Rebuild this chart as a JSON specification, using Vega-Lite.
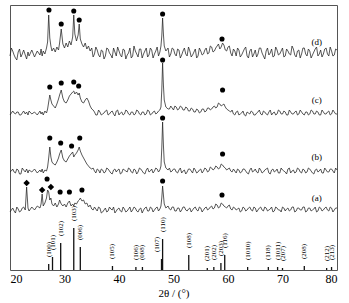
{
"$schema": "https://vega.github.io/schema/vega-lite/v6.json",
"width": 327, "height": 265,
"autosize": {"type": "none"},
"padding": {"left": 10, "top": 5, "right": 12, "bottom": 33},
"config": {"view": {"stroke": "#555", "strokeWidth": 1}, "font": "Liberation Serif"},
"datasets": {
"xrd": [
{"t":20,"a":58,"b":98,"c":155,"d":214},
{"t":20.5,"a":62,"b":101,"c":159,"d":219},
{"t":21,"a":57,"b":97,"c":156,"d":212},
{"t":21.5,"a":61,"b":100,"c":158,"d":218},
{"t":22,"a":59,"b":96,"c":155,"d":213},
{"t":22.5,"a":63,"b":100,"c":159,"d":220},
{"t":22.8,"a":60,"b":98,"c":156,"d":215},
{"t":23.05,"a":83,"b":101,"c":158,"d":211},
{"t":23.3,"a":62,"b":97,"c":155,"d":218},
{"t":23.5,"a":59,"b":100,"c":159,"d":214},
{"t":24,"a":63,"b":98,"c":156,"d":220},
{"t":24.5,"a":60,"b":101,"c":158,"d":213},
{"t":25,"a":64,"b":97,"c":155,"d":219},
{"t":25.5,"a":62,"b":100,"c":159,"d":215},
{"t":25.7,"a":66,"b":98,"c":156,"d":221},
{"t":25.9,"a":76,"b":101,"c":158,"d":214},
{"t":26.1,"a":64,"b":97,"c":155,"d":219},
{"t":26.4,"a":67,"b":100,"c":159,"d":216},
{"t":26.7,"a":72,"b":99,"c":157,"d":222},
{"t":26.9,"a":80,"b":103,"c":161,"d":228},
{"t":27.1,"a":78,"b":112,"c":168,"d":255},
{"t":27.3,"a":70,"b":123,"c":175,"d":232},
{"t":27.5,"a":72,"b":113,"c":170,"d":224},
{"t":27.7,"a":66,"b":108,"c":166,"d":219},
{"t":28,"a":64,"b":106,"c":164,"d":222},
{"t":28.3,"a":67,"b":105,"c":162,"d":218},
{"t":28.6,"a":63,"b":108,"c":166,"d":223},
{"t":28.9,"a":66,"b":112,"c":171,"d":220},
{"t":29.1,"a":70,"b":116,"c":175,"d":227},
{"t":29.4,"a":66,"b":120,"c":180,"d":241},
{"t":29.7,"a":64,"b":112,"c":172,"d":226},
{"t":30,"a":66,"b":109,"c":168,"d":222},
{"t":30.3,"a":63,"b":108,"c":167,"d":227},
{"t":30.6,"a":67,"b":111,"c":170,"d":223},
{"t":30.9,"a":69,"b":114,"c":174,"d":229},
{"t":31.2,"a":64,"b":116,"c":176,"d":225},
{"t":31.5,"a":66,"b":118,"c":178,"d":233},
{"t":31.7,"a":64,"b":113,"c":179,"d":255},
{"t":31.9,"a":67,"b":115,"c":176,"d":236},
{"t":32.2,"a":66,"b":117,"c":178,"d":229},
{"t":32.5,"a":69,"b":120,"c":175,"d":235},
{"t":32.7,"a":70,"b":123,"c":177,"d":246},
{"t":32.9,"a":72,"b":119,"c":172,"d":231},
{"t":33.2,"a":69,"b":115,"c":168,"d":226},
{"t":33.5,"a":70,"b":112,"c":167,"d":223},
{"t":33.8,"a":66,"b":109,"c":170,"d":227},
{"t":34.1,"a":67,"b":106,"c":172,"d":221},
{"t":34.4,"a":63,"b":104,"c":169,"d":224},
{"t":34.7,"a":65,"b":102,"c":164,"d":219},
{"t":35,"a":61,"b":101,"c":161,"d":222},
{"t":35.5,"a":63,"b":99,"c":158,"d":216},
{"t":36,"a":59,"b":101,"c":155,"d":220},
{"t":36.5,"a":62,"b":97,"c":158,"d":213},
{"t":37,"a":58,"b":100,"c":156,"d":219},
{"t":37.5,"a":62,"b":98,"c":159,"d":214},
{"t":38,"a":59,"b":101,"c":155,"d":221},
{"t":38.5,"a":61,"b":97,"c":158,"d":215},
{"t":39,"a":63,"b":100,"c":156,"d":222},
{"t":39.5,"a":59,"b":98,"c":159,"d":214},
{"t":40,"a":62,"b":101,"c":155,"d":219},
{"t":40.5,"a":58,"b":97,"c":158,"d":213},
{"t":41,"a":61,"b":100,"c":156,"d":220},
{"t":41.5,"a":59,"b":98,"c":159,"d":215},
{"t":42,"a":63,"b":101,"c":155,"d":222},
{"t":42.5,"a":60,"b":97,"c":158,"d":214},
{"t":43,"a":62,"b":100,"c":156,"d":219},
{"t":43.5,"a":58,"b":98,"c":159,"d":213},
{"t":44,"a":62,"b":101,"c":155,"d":221},
{"t":44.5,"a":60,"b":97,"c":158,"d":216},
{"t":45,"a":63,"b":100,"c":156,"d":222},
{"t":45.5,"a":59,"b":98,"c":159,"d":215},
{"t":46,"a":62,"b":101,"c":156,"d":220},
{"t":46.5,"a":60,"b":99,"c":159,"d":216},
{"t":47,"a":63,"b":101,"c":157,"d":223},
{"t":47.5,"a":61,"b":100,"c":160,"d":218},
{"t":47.7,"a":64,"b":104,"c":163,"d":224},
{"t":47.85,"a":72,"b":122,"c":180,"d":234},
{"t":48,"a":84,"b":148,"c":207,"d":252},
{"t":48.15,"a":75,"b":125,"c":185,"d":236},
{"t":48.3,"a":66,"b":108,"c":170,"d":224},
{"t":48.6,"a":62,"b":102,"c":163,"d":219},
{"t":49,"a":64,"b":100,"c":161,"d":222},
{"t":49.5,"a":60,"b":98,"c":164,"d":216},
{"t":50,"a":63,"b":101,"c":160,"d":221},
{"t":50.5,"a":59,"b":98,"c":163,"d":214},
{"t":51,"a":62,"b":100,"c":161,"d":220},
{"t":51.5,"a":60,"b":97,"c":163,"d":215},
{"t":52,"a":63,"b":100,"c":160,"d":222},
{"t":52.5,"a":59,"b":98,"c":162,"d":214},
{"t":53,"a":62,"b":101,"c":159,"d":219},
{"t":53.5,"a":60,"b":97,"c":161,"d":215},
{"t":54,"a":63,"b":100,"c":158,"d":221},
{"t":54.5,"a":59,"b":98,"c":160,"d":214},
{"t":55,"a":62,"b":101,"c":158,"d":219},
{"t":55.5,"a":60,"b":99,"c":161,"d":216},
{"t":56,"a":63,"b":101,"c":159,"d":222},
{"t":56.5,"a":61,"b":99,"c":162,"d":217},
{"t":57,"a":64,"b":102,"c":161,"d":223},
{"t":57.5,"a":62,"b":101,"c":164,"d":219},
{"t":58,"a":65,"b":103,"c":163,"d":224},
{"t":58.5,"a":63,"b":102,"c":166,"d":221},
{"t":59,"a":66,"b":105,"c":165,"d":227},
{"t":59.5,"a":63,"b":102,"c":163,"d":220},
{"t":60,"a":64,"b":101,"c":160,"d":223},
{"t":60.5,"a":61,"b":99,"c":158,"d":217},
{"t":61,"a":63,"b":101,"c":156,"d":221},
{"t":61.5,"a":60,"b":97,"c":158,"d":214},
{"t":62,"a":62,"b":100,"c":155,"d":220},
{"t":62.5,"a":59,"b":98,"c":157,"d":215},
{"t":63,"a":62,"b":101,"c":155,"d":221},
{"t":63.5,"a":60,"b":97,"c":158,"d":214},
{"t":64,"a":63,"b":100,"c":156,"d":219},
{"t":64.5,"a":59,"b":98,"c":158,"d":213},
{"t":65,"a":62,"b":101,"c":155,"d":220},
{"t":65.5,"a":60,"b":97,"c":158,"d":216},
{"t":66,"a":63,"b":100,"c":156,"d":222},
{"t":66.5,"a":59,"b":98,"c":159,"d":214},
{"t":67,"a":62,"b":101,"c":156,"d":219},
{"t":67.5,"a":60,"b":97,"c":158,"d":215},
{"t":68,"a":63,"b":100,"c":155,"d":221},
{"t":68.5,"a":59,"b":98,"c":158,"d":214},
{"t":69,"a":62,"b":101,"c":156,"d":220},
{"t":69.5,"a":60,"b":97,"c":159,"d":216},
{"t":70,"a":63,"b":100,"c":156,"d":222},
{"t":70.5,"a":59,"b":98,"c":158,"d":214},
{"t":71,"a":62,"b":101,"c":155,"d":219},
{"t":71.5,"a":60,"b":97,"c":158,"d":215},
{"t":72,"a":63,"b":100,"c":156,"d":221},
{"t":72.5,"a":59,"b":98,"c":159,"d":213},
{"t":73,"a":62,"b":101,"c":156,"d":220},
{"t":73.5,"a":60,"b":97,"c":158,"d":216},
{"t":74,"a":63,"b":100,"c":155,"d":222},
{"t":74.5,"a":59,"b":98,"c":158,"d":214},
{"t":75,"a":62,"b":101,"c":156,"d":219},
{"t":75.5,"a":60,"b":97,"c":159,"d":215},
{"t":76,"a":63,"b":100,"c":156,"d":221},
{"t":76.5,"a":59,"b":98,"c":158,"d":214},
{"t":77,"a":62,"b":101,"c":155,"d":220},
{"t":77.5,"a":60,"b":97,"c":158,"d":216},
{"t":78,"a":63,"b":100,"c":156,"d":222},
{"t":78.5,"a":59,"b":98,"c":159,"d":214},
{"t":79,"a":62,"b":101,"c":156,"d":219},
{"t":79.5,"a":60,"b":97,"c":158,"d":215},
{"t":80,"a":62,"b":100,"c":156,"d":220},
{"t":20.25,"a":60,"b":99,"c":157,"d":222},
{"t":20.75,"a":59,"b":98,"c":157,"d":215},
{"t":21.25,"a":63,"b":101,"c":158,"d":210},
{"t":21.75,"a":58,"b":96,"c":155,"d":221},
{"t":22.25,"a":62,"b":102,"c":157,"d":216},
{"t":35.25,"a":60,"b":102,"c":160,"d":213},
{"t":35.75,"a":61,"b":97,"c":155,"d":223},
{"t":36.25,"a":63,"b":100,"c":160,"d":215},
{"t":36.75,"a":57,"b":101,"c":155,"d":220},
{"t":37.25,"a":60,"b":97,"c":157,"d":211},
{"t":37.75,"a":58,"b":102,"c":160,"d":222},
{"t":38.25,"a":63,"b":99,"c":156,"d":217},
{"t":38.75,"a":60,"b":96,"c":159,"d":212},
{"t":39.25,"a":57,"b":101,"c":154,"d":218},
{"t":39.75,"a":61,"b":100,"c":160,"d":223},
{"t":40.25,"a":59,"b":96,"c":157,"d":215},
{"t":40.75,"a":63,"b":101,"c":155,"d":221},
{"t":41.25,"a":58,"b":99,"c":160,"d":211},
{"t":41.75,"a":61,"b":102,"c":156,"d":217},
{"t":42.25,"a":58,"b":98,"c":158,"d":212},
{"t":42.75,"a":63,"b":101,"c":155,"d":224},
{"t":43.25,"a":59,"b":96,"c":160,"d":216},
{"t":43.75,"a":61,"b":102,"c":156,"d":221},
{"t":44.25,"a":57,"b":99,"c":158,"d":212},
{"t":44.75,"a":62,"b":96,"c":155,"d":219},
{"t":45.25,"a":59,"b":102,"c":160,"d":213},
{"t":45.75,"a":63,"b":99,"c":155,"d":222},
{"t":46.25,"a":58,"b":97,"c":158,"d":212},
{"t":46.75,"a":62,"b":102,"c":156,"d":219},
{"t":47.25,"a":59,"b":98,"c":159,"d":214},
{"t":49.25,"a":61,"b":102,"c":161,"d":213},
{"t":49.75,"a":63,"b":99,"c":162,"d":222},
{"t":50.25,"a":59,"b":101,"c":164,"d":216},
{"t":50.75,"a":62,"b":97,"c":160,"d":221},
{"t":51.25,"a":58,"b":102,"c":164,"d":212},
{"t":51.75,"a":63,"b":99,"c":160,"d":219},
{"t":52.25,"a":60,"b":96,"c":163,"d":216},
{"t":52.75,"a":61,"b":101,"c":159,"d":223},
{"t":53.25,"a":58,"b":99,"c":162,"d":213},
{"t":53.75,"a":62,"b":102,"c":158,"d":218},
{"t":54.25,"a":60,"b":97,"c":161,"d":212},
{"t":54.75,"a":63,"b":100,"c":157,"d":222},
{"t":55.25,"a":58,"b":97,"c":161,"d":215},
{"t":55.75,"a":62,"b":102,"c":158,"d":220},
{"t":56.25,"a":60,"b":98,"c":162,"d":216},
{"t":56.75,"a":63,"b":103,"c":160,"d":224},
{"t":57.25,"a":61,"b":100,"c":163,"d":218},
{"t":57.75,"a":66,"b":104,"c":162,"d":222},
{"t":58.25,"a":62,"b":101,"c":167,"d":226},
{"t":58.75,"a":67,"b":106,"c":164,"d":223},
{"t":59.25,"a":64,"b":103,"c":166,"d":225},
{"t":59.75,"a":62,"b":100,"c":161,"d":219},
{"t":60.25,"a":65,"b":102,"c":159,"d":224},
{"t":60.75,"a":60,"b":98,"c":160,"d":214},
{"t":61.25,"a":62,"b":99,"c":155,"d":219},
{"t":61.75,"a":61,"b":101,"c":159,"d":222},
{"t":62.25,"a":58,"b":97,"c":156,"d":213},
{"t":62.75,"a":63,"b":101,"c":159,"d":218},
{"t":63.25,"a":59,"b":99,"c":154,"d":223},
{"t":63.75,"a":62,"b":96,"c":157,"d":212},
{"t":64.25,"a":60,"b":102,"c":159,"d":221},
{"t":64.75,"a":63,"b":99,"c":155,"d":216},
{"t":65.25,"a":58,"b":98,"c":157,"d":213},
{"t":65.75,"a":62,"b":102,"c":160,"d":222},
{"t":66.25,"a":60,"b":97,"c":155,"d":217},
{"t":66.75,"a":63,"b":100,"c":158,"d":211},
{"t":67.25,"a":59,"b":102,"c":155,"d":222},
{"t":67.75,"a":61,"b":96,"c":160,"d":217},
{"t":68.25,"a":58,"b":101,"c":157,"d":213},
{"t":68.75,"a":63,"b":99,"c":155,"d":223},
{"t":69.25,"a":60,"b":97,"c":160,"d":215},
{"t":69.75,"a":58,"b":102,"c":156,"d":219},
{"t":70.25,"a":62,"b":99,"c":159,"d":213},
{"t":70.75,"a":61,"b":96,"c":155,"d":221},
{"t":71.25,"a":59,"b":102,"c":160,"d":216},
{"t":71.75,"a":63,"b":99,"c":156,"d":224},
{"t":72.25,"a":58,"b":97,"c":158,"d":215},
{"t":72.75,"a":62,"b":102,"c":155,"d":219},
{"t":73.25,"a":60,"b":98,"c":160,"d":212},
{"t":73.75,"a":63,"b":101,"c":156,"d":222},
{"t":74.25,"a":58,"b":97,"c":158,"d":216},
{"t":74.75,"a":62,"b":102,"c":155,"d":221},
{"t":75.25,"a":59,"b":99,"c":160,"d":212},
{"t":75.75,"a":61,"b":96,"c":156,"d":218},
{"t":76.25,"a":58,"b":101,"c":159,"d":223},
{"t":76.75,"a":63,"b":99,"c":155,"d":216},
{"t":77.25,"a":59,"b":97,"c":160,"d":213},
{"t":77.75,"a":62,"b":102,"c":156,"d":221},
{"t":78.25,"a":60,"b":98,"c":158,"d":216},
{"t":78.75,"a":63,"b":101,"c":155,"d":223},
{"t":79.25,"a":58,"b":99,"c":160,"d":214},
{"t":79.75,"a":62,"b":102,"c":156,"d":221}
],
"sticks": [
{"hkl":"(100)","t":27.1,"h":6},
{"hkl":"(101)","t":27.8,"h":13},
{"hkl":"(102)","t":29.3,"h":27},
{"hkl":"(103)","t":31.7,"h":42},
{"hkl":"(006)","t":32.9,"h":23},
{"hkl":"(105)","t":38.8,"h":4},
{"hkl":"(106)","t":43.1,"h":3},
{"hkl":"(008)","t":44.3,"h":3},
{"hkl":"(107)","t":47.8,"h":11},
{"hkl":"(110)","t":48.0,"h":31},
{"hkl":"(108)","t":52.8,"h":15},
{"hkl":"(201)","t":56.2,"h":2},
{"hkl":"(202)","t":57.4,"h":3},
{"hkl":"(203)","t":58.7,"h":7},
{"hkl":"(116)","t":59.4,"h":15},
{"hkl":"(1010)","t":63.6,"h":3},
{"hkl":"(118)","t":67.4,"h":3},
{"hkl":"(1011)","t":69.1,"h":3},
{"hkl":"(207)","t":70.0,"h":2},
{"hkl":"(208)","t":74.0,"h":4},
{"hkl":"(212)","t":78.1,"h":2},
{"hkl":"(213)","t":79.0,"h":3}
],
"marks": [
{"t":27.15,"I":260,"phase":"CuS"},
{"t":29.4,"I":246,"phase":"CuS"},
{"t":31.7,"I":259,"phase":"CuS"},
{"t":32.7,"I":250,"phase":"CuS"},
{"t":48.0,"I":256,"phase":"CuS"},
{"t":58.9,"I":231,"phase":"CuS"},
{"t":27.3,"I":183,"phase":"CuS"},
{"t":29.4,"I":187,"phase":"CuS"},
{"t":31.7,"I":188,"phase":"CuS"},
{"t":32.6,"I":184,"phase":"CuS"},
{"t":48.0,"I":210,"phase":"CuS"},
{"t":59.0,"I":180,"phase":"CuS"},
{"t":27.3,"I":132,"phase":"CuS"},
{"t":29.3,"I":127,"phase":"CuS"},
{"t":31.3,"I":124,"phase":"CuS"},
{"t":32.8,"I":132,"phase":"CuS"},
{"t":48.0,"I":152,"phase":"CuS"},
{"t":59.0,"I":116,"phase":"CuS"},
{"t":26.8,"I":91,"phase":"CuS"},
{"t":29.2,"I":78,"phase":"CuS"},
{"t":30.9,"I":78,"phase":"CuS"},
{"t":33.2,"I":80,"phase":"CuS"},
{"t":48.0,"I":89,"phase":"CuS"},
{"t":58.9,"I":75,"phase":"CuS"},
{"t":23.05,"I":87,"phase":"S"},
{"t":25.9,"I":80,"phase":"S"},
{"t":27.5,"I":83,"phase":"S"}
],
"labels": [
{"t":76.3,"I":228,"lab":"(d)"},
{"t":76.3,"I":170,"lab":"(c)"},
{"t":76.3,"I":113,"lab":"(b)"},
{"t":76.3,"I":72,"lab":"(a)"}
]
},
"layer": [
{
"data": {"name": "xrd"},
"transform": [{"fold": ["a", "b", "c", "d"], "as": ["series", "I"]}],
"mark": {"type": "line", "color": "#222", "strokeWidth": 0.75},
"encoding": {
"x": {"field": "t", "type": "quantitative", "scale": {"domain": [20, 80], "nice": false},
"axis": {"values": [20, 30, 40, 50, 60, 70, 80], "domain": false, "ticks": false, "grid": false, "labelFontSize": 12, "labelColor": "#000", "labelPadding": 3, "labelFont": "Liberation Serif", "title": "2θ / (°)", "titleFont": "Liberation Serif", "titleFontSize": 11, "titleFontWeight": "normal", "titleColor": "#000", "titlePadding": 3}},
"y": {"field": "I", "type": "quantitative", "scale": {"domain": [0, 265], "nice": false, "zero": false}, "axis": null},
"detail": {"field": "series"}
}
},
{
"data": {"name": "sticks"},
"mark": {"type": "rule", "color": "#111", "strokeWidth": 1.3},
"encoding": {
"x": {"field": "t", "type": "quantitative"},
"y": {"field": "h", "type": "quantitative"},
"y2": {"datum": 0}
}
},
{
"data": {"name": "sticks"},
"transform": [{"filter": "datum.hkl != '(107)'"}],
"mark": {"type": "text", "angle": 270, "align": "left", "baseline": "middle", "dx": 7, "fontSize": 7, "font": "Liberation Serif", "color": "#000"},
"encoding": {
"x": {"field": "t", "type": "quantitative"},
"y": {"field": "h", "type": "quantitative"},
"text": {"field": "hkl"}
}
},
{
"data": {"name": "sticks"},
"transform": [{"filter": "datum.hkl == '(107)'"}],
"mark": {"type": "text", "angle": 270, "align": "left", "baseline": "middle", "dx": 7, "dy": -5, "fontSize": 7, "font": "Liberation Serif", "color": "#000"},
"encoding": {
"x": {"field": "t", "type": "quantitative"},
"y": {"field": "h", "type": "quantitative"},
"text": {"field": "hkl"}
}
},
{
"data": {"name": "marks"},
"mark": {"type": "point", "filled": true, "color": "#000", "opacity": 1},
"encoding": {
"x": {"field": "t", "type": "quantitative"},
"y": {"field": "I", "type": "quantitative"},
"size": {"field": "phase", "type": "nominal", "scale": {"domain": ["CuS", "S"], "range": [26, 42]}, "legend": null},
"shape": {"field": "phase", "type": "nominal", "scale": {"domain": ["CuS", "S"], "range": ["circle", "diamond"]},
"legend": {"title": null, "orient": "none", "legendX": 283, "legendY": 5, "padding": 0, "symbolSize": 26, "symbolFillColor": "#000", "symbolStrokeColor": "#000", "labelFontSize": 10, "labelFont": "Liberation Serif", "labelColor": "#000", "labelOffset": 2, "rowPadding": 5}}
}
},
{
"data": {"name": "labels"},
"mark": {"type": "text", "fontSize": 9, "font": "Liberation Serif", "color": "#000"},
"encoding": {
"x": {"field": "t", "type": "quantitative"},
"y": {"field": "I", "type": "quantitative"},
"text": {"field": "lab"}
}
}
]
}
